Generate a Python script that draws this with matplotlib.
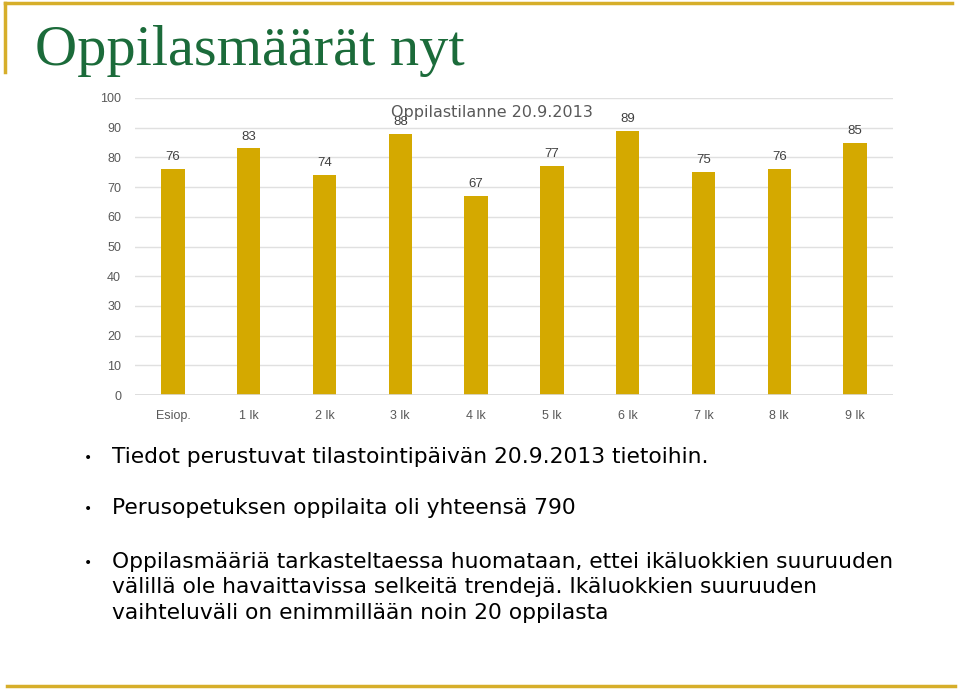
import matplotlib
matplotlib.use("Agg")
import matplotlib.pyplot as plt
from matplotlib.lines import Line2D
from matplotlib import font_manager as fm

categories = ["Esiop.", "1 lk", "2 lk", "3 lk", "4 lk", "5 lk", "6 lk", "7 lk", "8 lk", "9 lk"]
values = [76, 83, 74, 88, 67, 77, 89, 75, 76, 85]
yticks = [0, 10, 20, 30, 40, 50, 60, 70, 80, 90, 100]

slide_title = "Oppilasmäärät nyt"
chart_title = "Oppilastilanne 20.9.2013"
bullets = [
    "Tiedot perustuvat tilastointipäivän 20.9.2013 tietoihin.",
    "Perusopetuksen oppilaita oli yhteensä 790",
    "Oppilasmääriä tarkasteltaessa huomataan, ettei ikäluokkien suuruuden\nvälillä ole havaittavissa selkeitä trendejä. Ikäluokkien suuruuden\nvaihteluväli on enimmillään noin 20 oppilasta",
]

GOLD = "#D4A900"
LINE_GOLD = "#D6AE2A"
GREEN = "#1B6B3A"
GRAY = "#595959"

names = {f.name for f in fm.fontManager.ttflist}
narrow = "Liberation Sans Narrow" if "Liberation Sans Narrow" in names else "Liberation Sans"

W, H = 960, 689
fig = plt.figure(figsize=(W / 100, H / 100), dpi=100)

def fx(px):
    return px / W

def fy(py):
    return 1 - py / H

# decorative lines
fig.add_artist(Line2D([fx(5), fx(952)], [fy(3), fy(3)], color=LINE_GOLD, lw=2.5, transform=fig.transFigure))
fig.add_artist(Line2D([fx(5), fx(5)], [fy(3), fy(72)], color=LINE_GOLD, lw=2.5, transform=fig.transFigure))
fig.add_artist(Line2D([fx(7), fx(955)], [fy(686), fy(686)], color=LINE_GOLD, lw=2.5, transform=fig.transFigure))

fig.text(fx(35), fy(65), slide_title, fontsize=42, color=GREEN, family="Liberation Serif",
         ha="left", va="baseline")

ax = fig.add_axes([fx(135), fy(395), fx(893) - fx(135), fy(98) - fy(395)])
x = list(range(len(categories)))
ax.bar(x, values, width=0.31, color=GOLD, zorder=3)
ax.set_xlim(-0.5, len(categories) - 0.5)
ax.set_ylim(0, 100)
ax.set_yticks(yticks)
ax.set_yticklabels([str(t) for t in yticks], family="Liberation Sans", fontsize=9, color=GRAY)
ax.set_xticks(x)
ax.set_xticklabels(categories, family=narrow, fontsize=9, color=GRAY)
ax.tick_params(axis="both", length=0)
ax.tick_params(axis="y", pad=10)
ax.tick_params(axis="x", pad=11)
for s in ax.spines.values():
    s.set_visible(False)
ax.grid(axis="y", color="#E0E0E0", lw=1, zorder=0)
ax.axhline(0, color="#D9D9D9", lw=1.2, zorder=4)
for xi, v in zip(x, values):
    ax.text(xi, v + 2.0, str(v), ha="center", va="bottom", family="Liberation Sans",
            fontsize=9.5, color="#404040")

fig.text(fx(492), fy(112), chart_title, ha="center", va="center", family="DejaVu Sans",
         fontsize=11.5, color=GRAY)

# bullets
bullet_y = [458, 509, 563]
for by, txt in zip(bullet_y, bullets):
    fig.text(fx(88), fy(by), "•", ha="center", va="center", family="DejaVu Sans",
             fontsize=10, color="#000000")
    fig.text(fx(112), fy(by - 11), txt, ha="left", va="top", family="DejaVu Sans",
             fontsize=15.7, color="#000000", linespacing=1.33)

fig.savefig("out.png", dpi=100)
